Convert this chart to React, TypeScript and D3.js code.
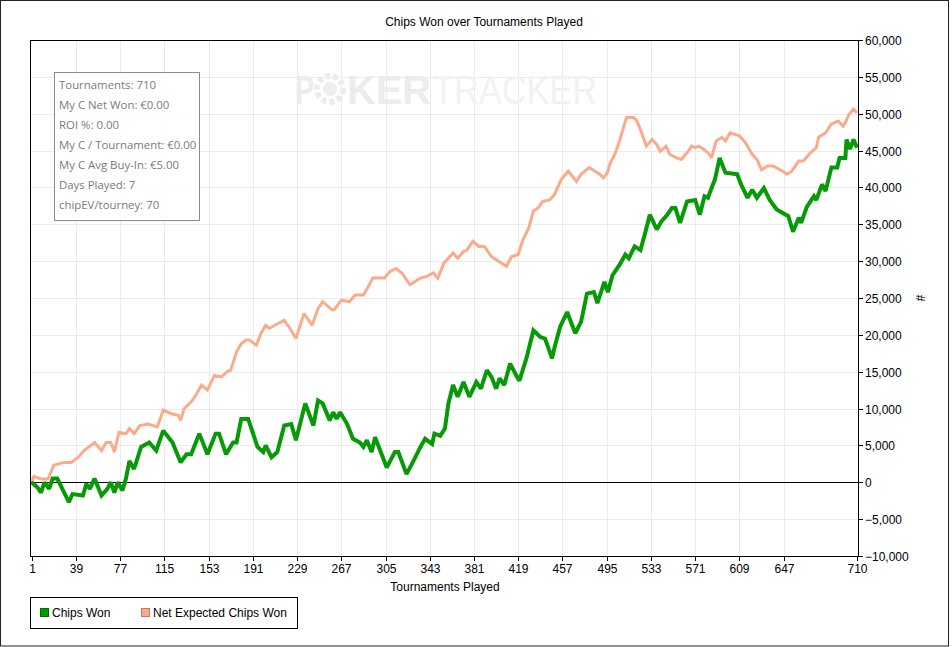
import * as d3 from 'd3'

// [tournament, chips]
const chipsWon: [number, number][] = [
  [1, 0], [6, -700], [9, -1400], [12, 0], [16, -900], [19, 500], [23, 500], [28, -1100], [33, -2700], [36, -1600],
  [45, -1800], [48, -200], [51, -900], [55, 500], [61, -1800], [66, -900], [69, 0], [72, -1400], [75, 0], [79, -1100],
  [82, 500], [85, 2900], [89, 1800], [95, 4800], [102, 5400], [108, 4300], [114, 7000], [122, 5400], [129, 2700],
  [134, 3800], [138, 3800], [145, 6600], [152, 3800], [159, 6600], [162, 6600], [168, 3800], [174, 5400], [177, 5400],
  [181, 8600], [187, 8600], [195, 4800], [200, 4100], [202, 5000], [207, 3400], [212, 4100], [218, 7700], [224, 7900],
  [228, 5700], [236, 10700], [243, 7700], [247, 11100], [251, 10700], [257, 8400], [260, 9500], [263, 8600],
  [266, 9500], [272, 7900], [277, 5900], [283, 5400], [286, 4800], [289, 5700], [293, 4100], [296, 6100], [306, 2000],
  [313, 4100], [316, 4100], [323, 1100], [329, 2900], [335, 4800], [339, 5900], [345, 5200], [347, 6600], [352, 6300],
  [356, 7300], [359, 10700], [363, 13200], [367, 11600], [372, 13600], [377, 11600], [383, 13600], [387, 12700],
  [392, 15200], [396, 14300], [400, 12700], [403, 14100], [407, 13200], [412, 16100], [418, 14300], [420, 13800],
  [426, 16800], [432, 20600], [438, 19700], [442, 19500], [448, 16800], [450, 18200], [455, 21100], [461, 23100],
  [468, 20200], [473, 21800], [478, 25600], [484, 25800], [487, 24300], [493, 27200], [496, 25800], [500, 28100],
  [506, 29500], [511, 30900], [514, 30400], [519, 32000], [524, 31500], [528, 33800], [532, 36300], [538, 34300],
  [542, 35400], [547, 36300], [551, 37200], [554, 37200], [558, 35200], [564, 38100], [571, 38300], [575, 36300],
  [579, 38800], [582, 38600], [585, 39900], [588, 41100], [592, 44000], [597, 42000], [607, 41800], [611, 40200],
  [616, 38600], [620, 39700], [624, 38600], [630, 39900], [635, 38300], [641, 37000], [651, 36100], [655, 34000],
  [660, 35900], [662, 35200], [667, 37400], [673, 38800], [675, 38300], [680, 40400], [683, 39500], [688, 42700],
  [693, 42700], [695, 44000], [700, 44000], [701, 46500], [704, 45200], [707, 46500], [710, 45400],
]

const netExpected: [number, number][] = [
  [1, 0], [3, 800], [9, 450], [15, 450], [20, 2300], [29, 2700], [35, 2700], [41, 3400], [46, 4300], [55, 5400],
  [61, 4300], [65, 5400], [69, 5400], [72, 4100], [76, 6800], [82, 6600], [85, 7300], [89, 6600], [94, 7700],
  [101, 7900], [109, 7500], [114, 9800], [121, 9300], [127, 9100], [129, 8400], [132, 10000], [138, 10900],
  [142, 11800], [147, 13200], [152, 12500], [158, 14500], [164, 14300], [169, 15000], [172, 15200], [177, 17700],
  [181, 18800], [185, 19300], [188, 19300], [194, 18600], [198, 20200], [202, 21300], [205, 20900], [210, 21300],
  [218, 22000], [224, 20600], [228, 19500], [235, 22900], [242, 21300], [247, 23600], [251, 24500], [259, 23400],
  [261, 23400], [267, 24700], [274, 24500], [279, 25400], [286, 25400], [290, 26500], [294, 27700], [299, 27700],
  [304, 27700], [309, 28600], [314, 29000], [319, 28400], [326, 26800], [330, 27200], [335, 27700], [340, 27900],
  [346, 28400], [350, 27700], [355, 29700], [359, 30400], [363, 31100], [367, 30400], [372, 31300], [375, 31500],
  [380, 32700], [385, 32000], [390, 32000], [396, 30600], [403, 29900], [409, 29300], [413, 30600], [419, 30900],
  [423, 32900], [428, 34500], [432, 36800], [436, 37200], [440, 38100], [446, 38300], [450, 39000], [456, 41100],
  [462, 42200], [469, 40800], [473, 41800], [480, 42700], [489, 41800], [492, 41300], [495, 41800], [498, 43300],
  [502, 44500], [506, 46300], [512, 49500], [518, 49500], [521, 49000], [525, 47400], [529, 45600], [534, 46500],
  [538, 45800], [541, 44900], [546, 45600], [549, 44500], [555, 44000], [559, 43800], [564, 44700], [568, 45600],
  [571, 45400], [574, 45600], [578, 45200], [582, 44700], [585, 44000], [589, 46300], [594, 46800], [597, 46300],
  [601, 47400], [605, 47200], [609, 47000], [614, 46100], [620, 44500], [624, 43800], [628, 42400], [633, 42900],
  [638, 42900], [644, 42400], [650, 41800], [654, 42200], [660, 43600], [664, 43600], [670, 44700], [675, 45400],
  [677, 46800], [683, 47400], [688, 48600], [694, 49000], [698, 48300], [700, 48800], [703, 49900], [707, 50600],
  [710, 50100],
]

const xTicks = [1, 39, 77, 115, 153, 191, 229, 267, 305, 343, 381, 419, 457, 495, 533, 571, 609, 647, 710]
const yTicks = [-10000, -5000, 0, 5000, 10000, 15000, 20000, 25000, 30000, 35000, 40000, 45000, 50000, 55000, 60000]

const statsLines = [
  'Tournaments: 710',
  'My C Net Won: €0.00',
  'ROI %: 0.00',
  'My C / Tournament: €0.00',
  'My C Avg Buy-In: €5.00',
  'Days Played: 7',
  'chipEV/tourney: 70',
]

const series = [
  { name: 'Chips Won', data: chipsWon, color: '#079a07', border: '#056b05', width: 4 },
  { name: 'Net Expected Chips Won', data: netExpected, color: '#fcab8a', border: '#c07c60', width: 3 },
]

const W = 952
const H = 647
const plot = { left: 30, top: 40, right: 858, bottom: 556 }
const font = '"Liberation Sans", Arial, sans-serif'

export default function App() {
  const x = d3.scaleLinear().domain([0, 710]).range([plot.left + 0.5, plot.right - 1])
  const y = d3.scaleLinear().domain([-10000, 60000]).range([plot.bottom, plot.top])
  const fmt = d3.format(',')
  const line = d3.line<[number, number]>().x(d => x(d[0])).y(d => y(d[1]))

  return (
    <svg width={W} height={H} style={{ position: 'absolute', left: 0, top: 0, background: '#fff' }}
      fontFamily={font} fontSize={12}>
      <rect x={0.5} y={0.5} width={948} height={645.5} fill="#fff" stroke="#222" />

      <text x={484} y={26} textAnchor="middle" fill="#000">Chips Won over Tournaments Played</text>

      {/* grid */}
      <g stroke="#ebebeb" strokeWidth={1}>
        {yTicks.map(t => (
          <line key={'gy' + t} x1={plot.left} x2={plot.right} y1={Math.round(y(t)) + 0.5} y2={Math.round(y(t)) + 0.5} />
        ))}
        {xTicks.slice(1, -1).map(t => (
          <line key={'gx' + t} y1={plot.top} y2={plot.bottom} x1={Math.round(x(t)) + 0.5} x2={Math.round(x(t)) + 0.5} />
        ))}
      </g>

      {/* watermark */}
      <g fill="#ececec" fontSize={40}>
        <text x={295} y={104} fontWeight="bold" textLength={19} lengthAdjust="spacingAndGlyphs">P</text>
        <circle cx={330} cy={89} r={13} fill="none" stroke="#ececec" strokeWidth={6} strokeDasharray="5 3" />
        <circle cx={330} cy={89} r={7} fill="#efefef" />
        <text x={347} y={104} fontWeight="bold" textLength={84} lengthAdjust="spacingAndGlyphs">KER</text>
        <text x={433} y={104} fill="#f2f2f2" textLength={164} lengthAdjust="spacingAndGlyphs">TRACKER</text>
      </g>

      {/* zero line */}
      <line x1={plot.left} x2={plot.right} y1={Math.round(y(0)) + 0.5} y2={Math.round(y(0)) + 0.5} stroke="#000" />

      {/* series */}
      {series.slice().reverse().map(s => (
        <path key={s.name} d={line(s.data) || ''} fill="none" stroke={s.color} strokeWidth={s.width}
          strokeLinejoin="miter" strokeMiterlimit={2} />
      ))}

      {/* stats box */}
      <rect x={54.5} y={72.5} width={145} height={148} fill="#fff" fillOpacity={0.85} stroke="#8a8a8a" />
      <g fill="#7a7a7a" fontFamily='"Open Sans", "Noto Sans", sans-serif' fontSize={11.4}>
        {statsLines.map((s, i) => (
          <text key={s} x={59} y={89 + i * 20}>{s}</text>
        ))}
      </g>

      {/* plot frame */}
      <rect x={plot.left + 0.5} y={plot.top + 0.5} width={plot.right - plot.left} height={plot.bottom - plot.top}
        fill="none" stroke="#000" />

      {/* right axis */}
      <g>
        {yTicks.map(t => (
          <g key={'ty' + t} transform={`translate(0,${Math.round(y(t)) + 0.5})`}>
            <line x1={plot.right + 0.5} x2={plot.right + 5} stroke="#000" />
            <text x={plot.right + 7} y={4} fill="#000">{fmt(t)}</text>
          </g>
        ))}
        <text transform={`translate(916,298) rotate(90)`} textAnchor="middle" fill="#000">#</text>
      </g>

      {/* bottom axis */}
      <g>
        {xTicks.map(t => (
          <g key={'tx' + t} transform={`translate(${Math.round(x(t)) + 0.5},0)`}>
            <line y1={plot.bottom + 0.5} y2={plot.bottom + 5} stroke="#000" />
            <text y={plot.bottom + 17} textAnchor="middle" fill="#000">{t}</text>
          </g>
        ))}
        <text x={445} y={591} textAnchor="middle" fill="#000">Tournaments Played</text>
      </g>

      {/* legend */}
      <rect x={30.5} y={597.5} width={267} height={31} fill="#fff" stroke="#000" />
      <rect x={40.5} y={608.5} width={8} height={8} fill={series[0].color} stroke={series[0].border} />
      <text x={52} y={617} fill="#000">{series[0].name}</text>
      <rect x={141.5} y={608.5} width={8} height={8} fill={series[1].color} stroke={series[1].border} />
      <text x={153} y={617} fill="#000">{series[1].name}</text>
    </svg>
  )
}
